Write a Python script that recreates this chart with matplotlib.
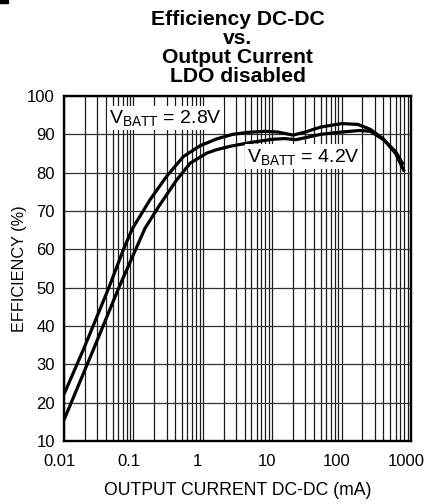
import numpy as np
import matplotlib
matplotlib.use("Agg")
import matplotlib.pyplot as plt
from matplotlib.ticker import FixedLocator, NullFormatter
from matplotlib.patches import Rectangle
from matplotlib.transforms import ScaledTranslation

plt.rcParams['font.family'] = ['Liberation Sans', 'DejaVu Sans']
plt.rcParams['mathtext.fontset'] = 'custom'
plt.rcParams['mathtext.rm'] = 'Liberation Sans'
plt.rcParams['mathtext.it'] = 'Liberation Sans'

# --- Data (output current in mA, efficiency in %) ---
i_28 = [0.01, 0.0194, 0.0445, 0.072, 0.096, 0.173, 0.30, 0.525, 0.91, 1.58,
        2.7, 4.4, 8.0, 12, 20, 30, 50, 100, 170, 260, 400, 600, 800]
eff_28 = [22.2, 34.2, 50.1, 60, 65.3, 72.9, 79.0, 84.2, 87.0, 88.8,
          90.0, 90.5, 90.8, 90.6, 89.8, 90.6, 91.9, 92.8, 92.6, 91.3, 88.8, 85.0, 80.3]

i_42 = [0.01, 0.027, 0.062, 0.147, 0.24, 0.42, 0.66, 1.14, 1.58, 2.5, 5.0,
        10, 15, 22, 50, 100, 180, 260, 400, 600, 780]
eff_42 = [15.5, 34.2, 50.1, 65.5, 71.6, 78.1, 82.5, 85.1, 86.0, 86.9, 87.9,
          88.7, 88.9, 88.6, 90.0, 90.6, 91.0, 90.8, 88.6, 85.5, 82.0]

x_ticks = [0.01, 0.1, 1, 10, 100, 1000]
x_ticklabels = ['0.01', '0.1', '1', '10', '100', '1000']
y_ticks = [10, 20, 30, 40, 50, 60, 70, 80, 90, 100]

# --- Figure ---
fig = plt.figure(figsize=(4.26, 5.04), dpi=100)
ax = fig.add_axes([64 / 426, 1 - 441 / 504, 347 / 426, 345 / 504])

# grid: every minor decade line plus the majors
minor = [m * 10.0 ** e for e in range(-2, 3) for m in range(2, 10)]
for xv in minor + x_ticks:
    ax.axvline(xv, color='#1a1a1a', lw=0.9, zorder=1)
for yv in y_ticks:
    ax.axhline(yv, color='#333333', lw=0.9, zorder=1)

ax.plot(i_28, eff_28, color='black', lw=2.3, solid_capstyle='butt', zorder=3)
ax.plot(i_42, eff_42, color='black', lw=2.3, solid_capstyle='butt', zorder=3)

ax.set_xscale('log')
ax.set_xlim(0.01, 1000)
ax.set_ylim(10, 100)
ax.xaxis.set_major_locator(FixedLocator(x_ticks))
ax.set_xticklabels(x_ticklabels)
ax.xaxis.set_minor_formatter(NullFormatter())
ax.set_yticks(y_ticks)
ax.tick_params(which='both', length=0, labelsize=12)
ax.tick_params(axis='x', pad=9)
ax.tick_params(axis='y', pad=6.5)

# the reference prints the x labels a few pixels left of their lines
shift = ScaledTranslation(-5 / 100, 0, fig.dpi_scale_trans)
for lbl in ax.get_xticklabels():
    lbl.set_transform(lbl.get_transform() + shift)

for sp in ax.spines.values():
    sp.set_linewidth(1.7)
    sp.set_zorder(4)

# curve labels
box = dict(facecolor='white', edgecolor='none', pad=1.5)
ax.text(0.045, 94.3, r'V$_{\mathrm{BATT}}$ = 2.8V', fontsize=14,
        va='center', ha='left', bbox=box, zorder=5)
ax.text(4.4, 84.2, r'V$_{\mathrm{BATT}}$ = 4.2V', fontsize=14,
        va='center', ha='left', bbox=box, zorder=5)

ax.set_title('Efficiency DC-DC\nvs.\nOutput Current\nLDO disabled',
             fontsize=15.2, fontweight='bold', linespacing=1.0, pad=10)
ax.set_xlabel('OUTPUT CURRENT DC-DC (mA)', fontsize=12.7, labelpad=10)
ax.set_ylabel('EFFICIENCY (%)', fontsize=11.7, labelpad=0.5)

# small mark in the top-left corner of the reference
fig.patches.append(Rectangle((0, 1 - 3 / 504), 8 / 426, 3 / 504,
                             transform=fig.transFigure, color='black'))

fig.savefig('out.png', dpi=100)
